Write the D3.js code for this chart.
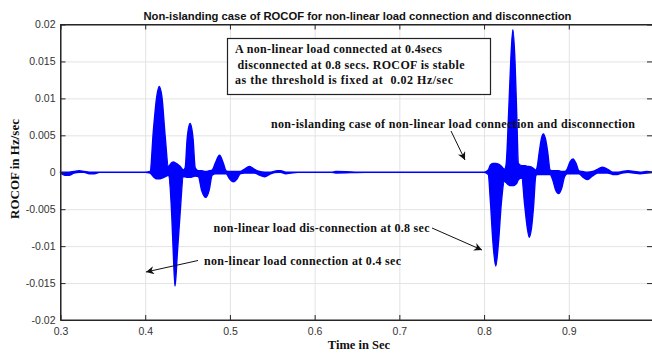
<!DOCTYPE html>
<html>
<head>
    <title>ROCOF non-islanding case</title>
    <style>
        body { margin: 0; background: #fff; }
        svg { font-family: 'Liberation Sans', Arial, sans-serif; }
        .tick text { fill: #333; font-size: 10.5px; }
        .grid line { stroke: #e3e3e3; }
        .grid path { display: none; }
        .note { font-family: 'Liberation Serif', 'Times New Roman', serif; font-weight: bold; fill: #111; }
    </style>
</head>
<body>
    <div id="chart"></div>
    <script src="https://cdn.jsdelivr.net/npm/d3@7"></script>
    <script>
        // signal envelope (time in sec, upper / lower ROCOF in Hz/sec)
        const timeSec = [
            0.300, 0.305, 0.310, 0.316, 0.322, 0.328, 0.334, 0.340, 0.346, 0.400,
            0.4058, 0.4097, 0.4136, 0.4165, 0.4197, 0.4236, 0.4273, 0.4313, 0.4332, 0.4352,
            0.4379, 0.4411, 0.4450, 0.4472, 0.4495, 0.4530, 0.4565, 0.4590, 0.4628, 0.4665,
            0.4715, 0.4755, 0.4790, 0.4830, 0.4877, 0.4920, 0.4955, 0.4995, 0.5040, 0.5085,
            0.5120, 0.5170, 0.5230, 0.5290, 0.5350, 0.5410, 0.5480, 0.5560, 0.5600, 0.5660,
            0.5720, 0.5800, 0.6200, 0.6250, 0.6600, 0.8000, 0.8050, 0.8075, 0.8105, 0.8138,
            0.8170, 0.8205, 0.8240, 0.8260, 0.8290, 0.8315, 0.8340, 0.8365, 0.8385, 0.8405,
            0.8445, 0.8480, 0.8510, 0.8534, 0.8560, 0.8585, 0.8610, 0.8625, 0.8655, 0.8680,
            0.8700, 0.8725, 0.8750, 0.8780, 0.8810, 0.8845, 0.8880, 0.8915, 0.8950, 0.8980,
            0.9015, 0.9050, 0.9085, 0.9120, 0.9160, 0.9220, 0.9280, 0.9340, 0.9400, 0.9460,
            0.9520, 0.9570, 0.9630, 0.9700, 0.9770, 0.9840, 0.9920, 1.0000
        ];
        const upperEnv = [
            0, 0, 0, 0.0001, 0.0002, 0.0001, 0, 0, 0, 0,
            0.0001, 0.0057, 0.0102, 0.0116, 0.0102, 0.0048, 0.0008, 0.0013, 0.0014, 0.0013,
            0.0011, 0.0008, 0.0003, 0.0006, 0.0045, 0.0066, 0.0045, 0.0006, 0.0002, 0.0002,
            0.0001, 0.0002, 0.0003, 0.0013, 0.0023, 0.0013, 0.0002, 0.0001, 0.0001, 0.0001,
            0.0001, 0.0004, 0.0008, 0.0004, 0.0001, 0, 0, 0.0002, 0.0002, 0,
            0, 0, 0, 0.0001, 0, 0, 0.0003, 0.0010, 0.0012, 0.0012,
            0.0011, 0.0008, 0.0004, 0.0010, 0.0080, 0.0150, 0.0193, 0.0150, 0.0080, 0.0012,
            0.0009, 0.0009, 0.0008, 0.0008, 0.0007, 0.0005, 0.0003, 0.0006, 0.0030, 0.0047,
            0.0052, 0.0045, 0.0028, 0.0003, 0.0002, 0.0002, 0.0002, 0.0001, 0.0001, 0.0004,
            0.0014, 0.0018, 0.0012, 0.0002, 0.0001, 0, 0.0001, 0.0004, 0.0007, 0.0004,
            0, 0, 0.0001, 0.0002, 0.0001, 0, 0.0001, 0
        ];
        const lowerEnv = [
            -0.0001, -0.0004, -0.0004, -0.0001, 0, 0, -0.0002, -0.0002, 0, 0,
            -0.0001, -0.0006, -0.0009, -0.0009, -0.0008, -0.0006, -0.0004, -0.0057, -0.0110, -0.0154,
            -0.0110, -0.0057, -0.0006, -0.0006, -0.0007, -0.0007, -0.0006, -0.0005, -0.0006, -0.0024,
            -0.0034, -0.0024, -0.0004, -0.0002, -0.0002, -0.0002, -0.0002, -0.0009, -0.0013, -0.0009,
            -0.0002, -0.0001, -0.0001, -0.0001, -0.0004, -0.0006, -0.0002, 0, 0, -0.0002,
            -0.0001, 0, 0, -0.0001, 0, 0, -0.0003, -0.0040, -0.0095, -0.0127,
            -0.0095, -0.0040, -0.0012, -0.0014, -0.0017, -0.0018, -0.0018, -0.0017, -0.0015, -0.0010,
            -0.0008, -0.0045, -0.0075, -0.0088, -0.0075, -0.0045, -0.0005, -0.0003, -0.0003, -0.0003,
            -0.0003, -0.0003, -0.0003, -0.0003, -0.0010, -0.0024, -0.0029, -0.0022, -0.0006, -0.0002,
            -0.0002, -0.0002, -0.0002, -0.0002, -0.0006, -0.0010, -0.0005, -0.0001, -0.0001, -0.0001,
            -0.0003, -0.0003, -0.0001, 0, -0.0001, -0.0002, -0.0001, 0
        ];

        const xTicks = [0.3, 0.4, 0.5, 0.6, 0.7, 0.8, 0.9];
        const xTickLabels = ["0.3", "0.4", "0.5", "0.6", "0.7", "0.8", "0.9"];
        const yTicks = [0.02, 0.015, 0.01, 0.005, 0, -0.005, -0.01, -0.015, -0.02];
        const yTickLabels = ["0.02", "0.015", "0.01", "0.005", "0", "-0.005", "-0.01", "-0.015", "-0.02"];

        const [W, H] = [652, 353];
        const plot = {left: 60.5, right: 653.5, top: 24.5, bottom: 320};

        const svg = d3.select("#chart")
                        .append("svg")
                        .attr("width", W)
                        .attr("height", H);

        const x = d3.scaleLinear().domain([0.3, 1.0]).range([plot.left, plot.right]);
        const y = d3.scaleLinear().domain([-0.02, 0.02]).range([plot.bottom, plot.top]);

        //grid
        svg.append("g")
            .attr("class", "grid")
            .attr("transform", `translate(0, ${plot.bottom})`)
            .call(d3.axisBottom(x).tickValues(xTicks).tickSize(-(plot.bottom - plot.top)).tickFormat(""));
        svg.append("g")
            .attr("class", "grid")
            .attr("transform", `translate(${plot.left}, 0)`)
            .call(d3.axisLeft(y).tickValues(yTicks).tickSize(-(plot.right - plot.left)).tickFormat(""));

        // signal (fast oscillation drawn as its filled envelope)
        const pts = timeSec.map((t, i) => ({t: t, hi: upperEnv[i], lo: lowerEnv[i]}));
        const area = d3.area()
            .x(d => x(d.t))
            .y0(d => y(d.lo))
            .y1(d => y(d.hi))
            .curve(d3.curveMonotoneX);
        svg.append("path")
            .datum(pts)
            .attr("d", area)
            .attr("fill", "#0000ff")
            .attr("stroke", "#0000ff")
            .attr("stroke-width", 1.4);

        //axes with inward ticks (box style)
        svg.append("g")
            .attr("transform", `translate(0, ${plot.bottom})`)
            .call(d3.axisBottom(x).tickValues(xTicks).tickSizeInner(-5).tickSizeOuter(0).tickPadding(8)
                    .tickFormat((d, i) => xTickLabels[i]));
        svg.append("g")
            .attr("transform", `translate(0, ${plot.top})`)
            .call(d3.axisTop(x).tickValues(xTicks).tickSizeInner(-5).tickSizeOuter(0).tickFormat(""));
        svg.append("g")
            .attr("transform", `translate(${plot.left}, 0)`)
            .call(d3.axisLeft(y).tickValues(yTicks).tickSizeInner(-5).tickSizeOuter(0).tickPadding(5)
                    .tickFormat((d, i) => yTickLabels[i]));
        svg.append("g")
            .attr("transform", `translate(${plot.right - 1.5}, 0)`)
            .call(d3.axisRight(y).tickValues(yTicks).tickSizeInner(-5).tickSizeOuter(0).tickFormat(""));
        svg.selectAll(".domain").attr("stroke", "#262626");
        svg.selectAll(".tick line").filter(function() { return !this.closest(".grid"); }).attr("stroke", "#262626");

        // axis box
        svg.append("rect")
            .attr("x", plot.left).attr("y", plot.top)
            .attr("width", plot.right - plot.left).attr("height", plot.bottom - plot.top)
            .attr("fill", "none").attr("stroke", "#262626");

        // title and axis labels
        svg.append("text")
            .attr("x", 357.5).attr("y", 20)
            .attr("text-anchor", "middle")
            .attr("font-size", "11.5px")
            .attr("font-weight", "bold")
            .attr("fill", "#111")
            .attr("textLength", 428)
            .attr("lengthAdjust", "spacingAndGlyphs")
            .text("Non-islanding case of ROCOF for non-linear load connection and disconnection");

        svg.append("text")
            .attr("class", "note")
            .attr("x", 359).attr("y", 349)
            .attr("text-anchor", "middle")
            .attr("font-size", "12.5px")
            .text("Time in Sec");

        svg.append("text")
            .attr("class", "note")
            .attr("transform", "translate(19, 169) rotate(-90)")
            .attr("text-anchor", "middle")
            .attr("font-size", "13px")
            .text("ROCOF in Hz/sec");

        // annotation box
        svg.append("rect")
            .attr("x", 227.5).attr("y", 38.5)
            .attr("width", 263).attr("height", 56)
            .attr("fill", "#fff").attr("stroke", "#222").attr("stroke-width", 1.2);

        const boxLines = [
            {text: "A non-linear load connected at 0.4secs", x: 235, y: 53, len: 207},
            {text: "disconnected at 0.8 secs. ROCOF is stable", x: 237.5, y: 68.5, len: 227},
            {text: "as the threshold is fixed at  0.02 Hz/sec", x: 235, y: 84, len: 218}
        ];
        svg.selectAll(".boxline")
            .data(boxLines)
            .enter().append("text")
            .attr("class", "note boxline")
            .attr("x", d => d.x).attr("y", d => d.y)
            .attr("font-size", "12px")
            .attr("textLength", d => d.len)
            .attr("lengthAdjust", "spacing")
            .attr("xml:space", "preserve")
            .text(d => d.text);

        // arrows
        svg.append("defs").append("marker")
            .attr("id", "arrow")
            .attr("viewBox", "0 0 10 10")
            .attr("refX", 10).attr("refY", 5)
            .attr("markerWidth", 11).attr("markerHeight", 8)
            .attr("markerUnits", "userSpaceOnUse")
            .attr("orient", "auto")
            .append("path")
            .attr("d", "M0,0 L10,5 L0,10 L3,5 z")
            .attr("fill", "#111");

        const notes = [
            {text: "non-islanding case of non-linear load connection and disconnection", x: 271, y: 127.5, len: 364,
             a: [451, 131, 465, 160]},
            {text: "non-linear load dis-connection at 0.8 sec", x: 213.5, y: 231.5, len: 216,
             a: [432, 228, 482, 250]},
            {text: "non-linear load connection at 0.4 sec", x: 204, y: 265, len: 197,
             a: [198, 260.5, 146, 272]}
        ];
        notes.forEach(n => {
            svg.append("text")
                .attr("class", "note")
                .attr("x", n.x).attr("y", n.y)
                .attr("font-size", "12px")
                .attr("textLength", n.len)
                .attr("lengthAdjust", "spacing")
                .text(n.text);
            svg.append("line")
                .attr("x1", n.a[0]).attr("y1", n.a[1])
                .attr("x2", n.a[2]).attr("y2", n.a[3])
                .attr("stroke", "#111").attr("stroke-width", 1)
                .attr("marker-end", "url(#arrow)");
        });
    </script>
</body>
</html>
